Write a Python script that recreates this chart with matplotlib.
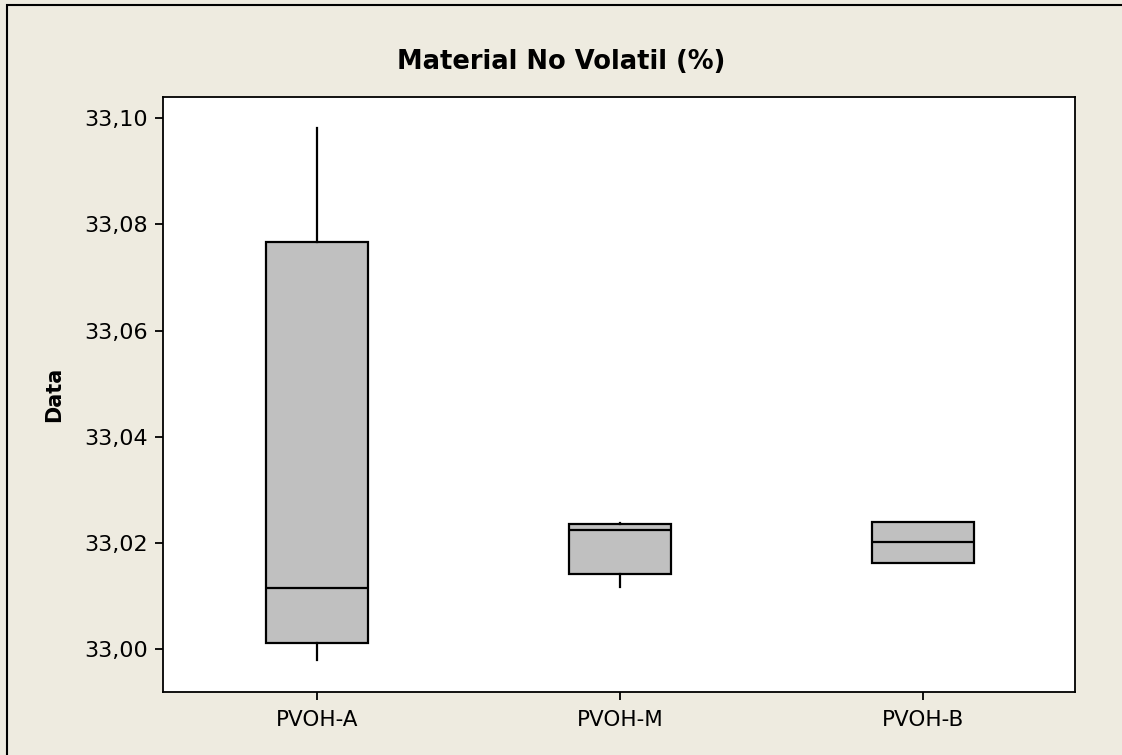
import matplotlib
matplotlib.use("Agg")
import matplotlib.pyplot as plt
from matplotlib.patches import Rectangle
from matplotlib.ticker import FuncFormatter

# box statistics
groups = ["PVOH-A", "PVOH-M", "PVOH-B"]
whis_lo = [32.9979, 33.0117, 33.0162]
q1 = [33.0011, 33.0141, 33.0162]
median = [33.0115, 33.0224, 33.0202]
q3 = [33.0767, 33.0235, 33.0239]
whis_hi = [33.0981, 33.0237, 33.0239]
yticks = [33.00, 33.02, 33.04, 33.06, 33.08, 33.10]

bg = "#EEEBE0"
plt.rcParams["font.family"] = ["DejaVu Sans"]

fig = plt.figure(figsize=(11.22, 7.55), dpi=100, facecolor=bg)
ax = fig.add_axes([163 / 1122, 1 - 692 / 755, 912 / 1122, 595 / 755])
ax.set_facecolor("white")

stats = []
for i, g in enumerate(groups):
    stats.append({"label": g, "whislo": whis_lo[i], "q1": q1[i], "med": median[i],
                  "q3": q3[i], "whishi": whis_hi[i], "fliers": []})

ax.bxp(stats, positions=[1, 2, 3], widths=0.337, patch_artist=True, showcaps=False,
       boxprops=dict(facecolor="#C0C0C0", edgecolor="black", linewidth=1.6),
       medianprops=dict(color="black", linewidth=1.6),
       whiskerprops=dict(color="black", linewidth=1.6))

ax.set_xlim(0.492, 3.502)
ax.set_ylim(32.9919, 33.1040)
ax.set_yticks(yticks)
ax.yaxis.set_major_formatter(FuncFormatter(lambda v, p: f"{v:.2f}".replace(".", ",")))
ax.set_xticks([1, 2, 3])
ax.set_xticklabels(groups)
ax.tick_params(direction="out", length=6, width=1.3, labelsize=16, pad=5, colors="black")
ax.tick_params(axis="x", labelsize=15.5, pad=7)
for side in ["top", "right", "left", "bottom"]:
    ax.spines[side].set_linewidth(1.3)

ax.set_ylabel("Data", fontsize=15, fontweight="bold", labelpad=14)
fig.text(0.5, 1 - 62 / 755, "Material No Volatil (%)", ha="center", va="center",
         fontsize=18.5, fontweight="bold")

# outer frame (right and bottom edges fall outside the image)
fig.patches.append(Rectangle((7 / 1122, -0.05), 1.2, 1 - 5 / 755 + 0.05,
                             transform=fig.transFigure, fill=False,
                             edgecolor="black", linewidth=1.5))

fig.savefig("out.png", dpi=100, facecolor=bg)
